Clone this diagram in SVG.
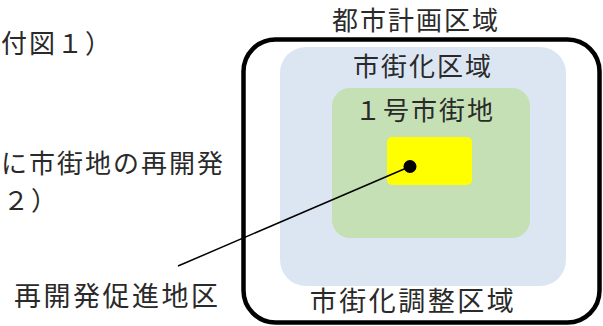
<svg xmlns="http://www.w3.org/2000/svg" width="603" height="326" viewBox="0 0 603 326">
<style>
text{font-family:"Noto Sans CJK JP","Noto Sans CJK SC",sans-serif;font-size:26px;fill:#2a2a2a;letter-spacing:2px}
.c{text-anchor:middle}
.b{font-size:27px;letter-spacing:2.5px}
</style>
<rect width="603" height="326" fill="#ffffff"/>
<g id="left-text">
<text x="1" y="53">付図１）</text>
<text x="1" y="173">に市街地の再開発</text>
<text x="3" y="210">２）</text>
</g>
<g id="toshi-keikaku">
<rect x="243.5" y="39.5" width="356" height="283" rx="32" fill="#ffffff" stroke="#000" stroke-width="4.5"/>
<text class="c" x="416" y="30">都市計画区域</text>
<text class="c b" x="413" y="311">市街化調整区域</text>
</g>
<g id="shigaika">
<rect x="280" y="47" width="286" height="239" rx="26" fill="#dce6f3"/>
<text class="c" x="423" y="76">市街化区域</text>
</g>
<g id="ichigo">
<rect x="332" y="88" width="198" height="150" rx="18" fill="#c5e0b4"/>
<text class="c" x="425" y="120">１号市街地</text>
</g>
<g id="saikaihatsu-area">
<rect x="387" y="137" width="85" height="48" rx="5" fill="#ffff00"/>
</g>
<g id="connectors">
<line x1="410" y1="166.5" x2="178" y2="266" stroke="#000" stroke-width="1.5"/>
<circle cx="410" cy="166.5" r="6.5" fill="#000"/>
</g>
<g id="saikaihatsu-label">
<text class="b" x="14" y="306">再開発促進地区</text>
</g>
</svg>
